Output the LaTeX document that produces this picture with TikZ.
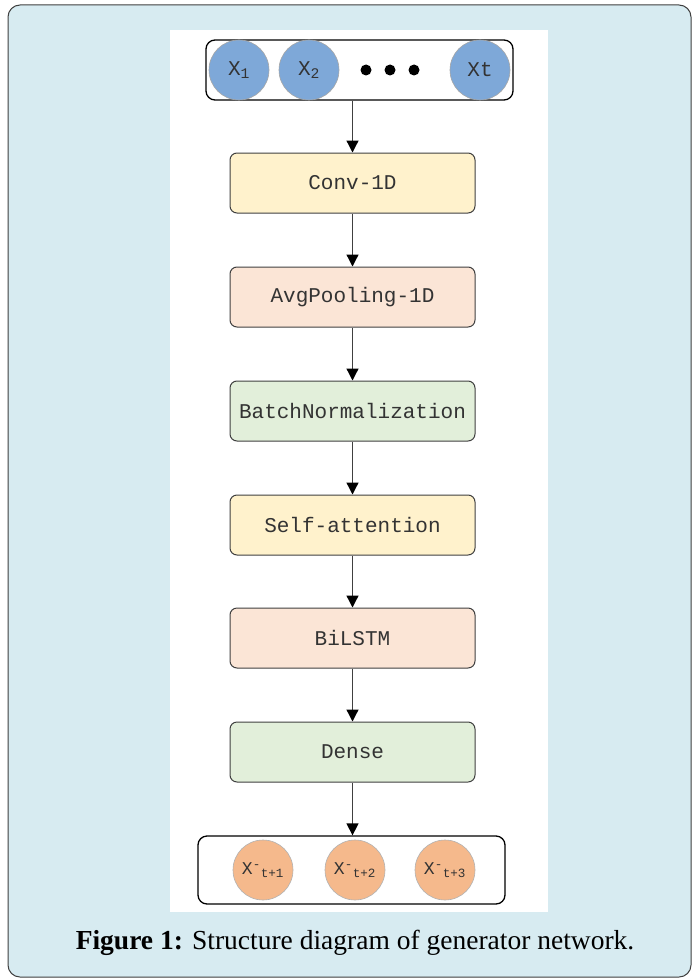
\documentclass[tikz,border=0pt]{standalone}
\usepackage{fontspec}
\setmainfont{Liberation Serif}
\newfontfamily\boxfont{Liberation Mono}
\usetikzlibrary{arrows.meta}
\definecolor{panel}{HTML}{D7EBF1}
\definecolor{cyel}{HTML}{FFF2CC}
\definecolor{cpink}{HTML}{FBE5D6}
\definecolor{cgreen}{HTML}{E2EFDA}
\definecolor{cblue}{HTML}{7EA8D8}
\definecolor{corange}{HTML}{F5B98C}
\definecolor{edge}{HTML}{404040}
\definecolor{txt}{HTML}{333333}
\begin{document}
\begin{tikzpicture}[x=1pt,y=-1pt,
  layer/.style={draw=edge,line width=1pt,rounded corners=7pt,minimum width=245pt,minimum height=60pt,text=txt,font=\boxfont\fontsize{21}{24}\selectfont,inner sep=0pt},
  inbox/.style={draw=black,line width=1.3pt,rounded corners=9pt,inner sep=0pt},
  inc/.style={circle,fill=cblue,draw=gray!70,line width=0.6pt,minimum size=60pt,inner sep=0pt,text=txt,font=\boxfont\fontsize{21}{24}\selectfont},
  outc/.style={circle,fill=corange,draw=gray!60,line width=0.6pt,minimum size=60pt,inner sep=0pt,text=txt,font=\boxfont\fontsize{18}{20}\selectfont},
  dot/.style={circle,fill=black,minimum size=11pt,inner sep=0pt},
  flow/.style={draw=edge,line width=1.3pt,-{Triangle[length=12pt,width=12pt,color=black]}}]
\useasboundingbox (0,0) rectangle (699,979);
\fill[white] (0,0) rectangle (699,979);
\draw[fill=panel,draw=edge,line width=1pt,rounded corners=12pt] (8,5) rectangle (691,977);
\fill[white] (170,30) rectangle (548,912);
% input
\node[inbox,minimum width=307pt,minimum height=60pt] (in) at (359.5,70) {};
\node[inc] (x1) at (239,70) {X\textsubscript{1}};
\node[inc] (x2) at (309,70) {X\textsubscript{2}};
\node[dot] (d1) at (366,70) {};
\node[dot] (d2) at (390,70) {};
\node[dot] (d3) at (414,70) {};
\node[inc] (xt) at (480,70) {Xt};
% layers
\node[layer,fill=cyel] (conv) at (352.5,183) {Conv-1D};
\node[layer,fill=cpink] (pool) at (352.5,297) {AvgPooling-1D};
\node[layer,fill=cgreen] (bn) at (352.5,411) {BatchNormalization};
\node[layer,fill=cyel] (att) at (352.5,525) {Self-attention};
\node[layer,fill=cpink] (lstm) at (352.5,638) {BiLSTM};
\node[layer,fill=cgreen] (dense) at (352.5,752) {Dense};
% output
\node[inbox,minimum width=307pt,minimum height=68pt] (out) at (351.5,870) {};
\node[outc] (y1) at (263,870) {X\textsuperscript{-}\textsubscript{t+1}};
\node[outc] (y2) at (355,870) {X\textsuperscript{-}\textsubscript{t+2}};
\node[outc] (y3) at (445,870) {X\textsuperscript{-}\textsubscript{t+3}};
% arrows
\draw[flow] (in.south -| conv.north) -- (conv.north);
\draw[flow] (conv) -- (pool);
\draw[flow] (pool) -- (bn);
\draw[flow] (bn) -- (att);
\draw[flow] (att) -- (lstm);
\draw[flow] (lstm) -- (dense);
\draw[flow] (dense.south) -- (dense.south |- out.north);
% caption
\node (cap) at (355,943) {\fontsize{27.5}{30}\selectfont\textbf{Figure 1:} Structure diagram of generator network.};
\end{tikzpicture}
\end{document}
